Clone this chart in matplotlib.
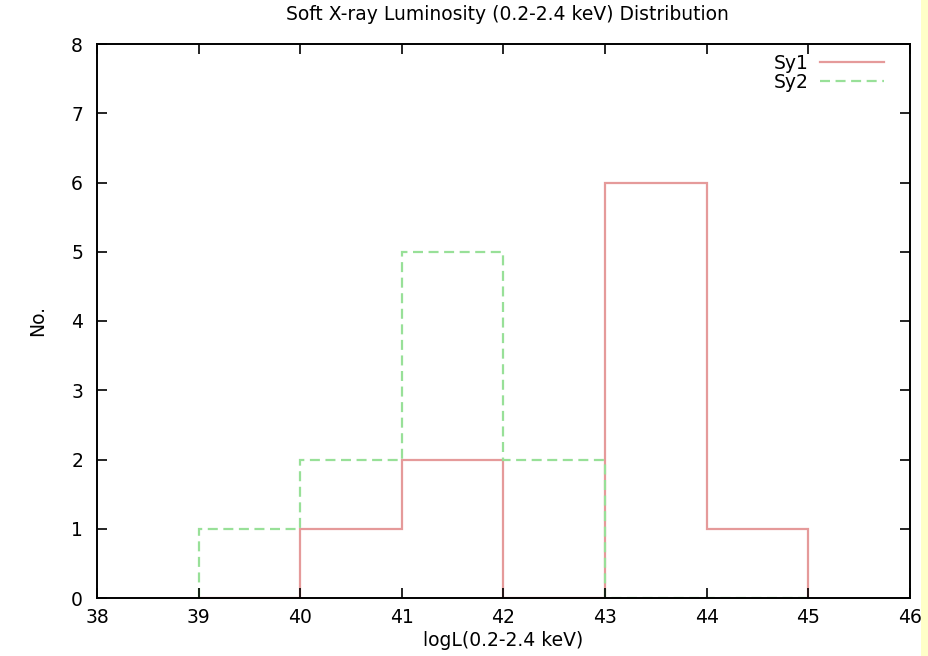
import matplotlib
matplotlib.use("Agg")
import matplotlib.pyplot as plt
import numpy as np
from matplotlib.patches import Rectangle

bin_edges = [39, 40, 41, 42, 43, 44, 45]
sy1_counts = [0, 1, 2, 0, 6, 1]
sy2_counts = [1, 2, 5, 2, 0, 0]
xticks = [38, 39, 40, 41, 42, 43, 44, 45, 46]
yticks = [0, 1, 2, 3, 4, 5, 6, 7, 8]

plt.rcParams['font.family'] = ['DejaVu Sans']
FS = 13.5

W, H = 929, 656
fig = plt.figure(figsize=(W / 100, H / 100), dpi=100)
fig.patches.append(Rectangle((921 / W, 0), 8 / W, 1, transform=fig.transFigure,
                             facecolor='#ffffc8', edgecolor='none', zorder=0))
L, R, T, B = 97, 910, 44, 598
ax = fig.add_axes([L / W, 1 - B / H, (R - L) / W, (B - T) / H])

ax.stairs(sy1_counts, bin_edges, color='#e59a9a', lw=1.6, label='Sy1', baseline=0)
ax.stairs(sy2_counts, bin_edges, color='#98e098', lw=1.6, ls=(0, (4.5, 2.5)), label='Sy2', baseline=0)

ax.set_xlim(38, 46)
ax.set_ylim(0, 8)
ax.set_xticks(xticks)
ax.set_yticks(yticks)
ax.tick_params(direction='in', top=True, right=True, length=7, width=1.2, labelsize=FS)
ax.tick_params(axis='y', pad=10)
ax.tick_params(axis='x', pad=7)
for s in ax.spines.values():
    s.set_linewidth(1.4)

fig.text((L + R) / 2 / W + 4 / W, 1 - 14 / H, 'Soft X-ray Luminosity (0.2-2.4 keV) Distribution',
         ha='center', va='center', fontsize=FS)
fig.text((L + R) / 2 / W, 1 - 640 / H, 'logL(0.2-2.4 keV)', ha='center', va='center', fontsize=FS)
fig.text(38 / W, 1 - 321 / H, 'No.', ha='center', va='center', rotation=90, fontsize=FS)

ax.legend(loc='upper right', frameon=False, markerfirst=False, handlelength=3.4,
          fontsize=FS, labelspacing=0.0, borderaxespad=0, borderpad=0, handletextpad=0.6,
          bbox_to_anchor=((884 - L) / (R - L), 1 - 10 / (B - T)))

fig.savefig('out.png', dpi=100)
